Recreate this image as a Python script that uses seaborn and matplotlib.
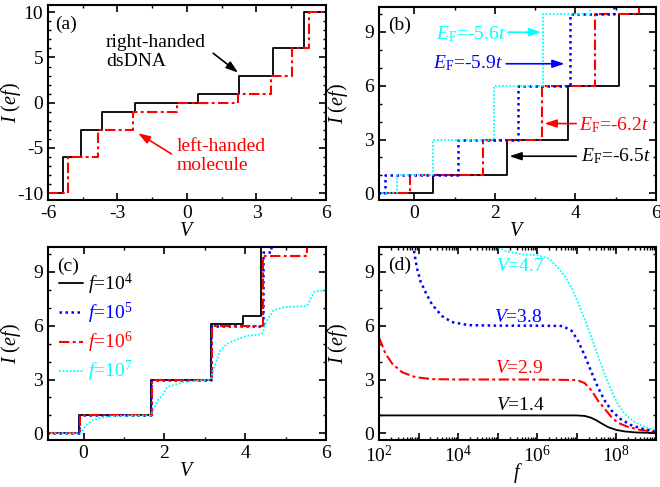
import numpy as np
import matplotlib
matplotlib.use('Agg')
import matplotlib.pyplot as plt
from matplotlib.ticker import MultipleLocator, LogLocator, FuncFormatter, NullFormatter
import seaborn as sns

# ---- panel (a): step positions in V and current levels
a_right_V = [-6.0, -5.35, -4.56, -3.65, -2.25, 0.48, 2.25, 3.72, 5.05, 6.0]
a_right_I = [-10, -6, -3, -1, 0, 1, 3, 6, 10, 10]
a_left_V = [-6.0, -5.14, -3.84, -2.33, -0.45, 2.21, 3.61, 4.52, 5.28, 6.0]
a_left_I = [-10, -6, -3, -1, 0, 1, 3, 6, 10, 10]

# ---- panel (b): steps for different Fermi energies
b_65_V = [-0.9, 0.47, 2.29, 3.81, 5.08, 6.0]
b_65_I = [0, 1, 3, 6, 10, 10]
b_62_V = [-0.9, -0.12, 1.70, 3.18, 4.48, 5.58, 6.0]
b_62_I = [0, 1, 3, 6, 10, 15, 15]
b_59_V = [-0.9, -0.72, 1.08, 2.58, 3.86, 4.96, 6.0]
b_59_I = [0, 1, 3, 6, 10, 15, 15]
b_56_V = [-0.9, -0.43, 0.46, 1.98, 3.19, 4.36, 6.0]
b_56_I = [0, 1, 3, 6, 10, 15, 15]

# ---- panel (c): different frequencies
c_f4_V = [-0.9, -0.10, 1.67, 3.15, 3.95, 4.40, 6.0]
c_f4_I = [0, 1, 3, 6.08, 6.55, 15, 15]
c_f5_V = [-0.9, -0.10, 1.68, 3.16, 4.43, 4.64, 6.0]
c_f5_I = [0, 1, 3, 6.0, 10.1, 15, 15]
c_f6_V = [-0.9, -0.08, 1.70, 3.19, 4.45, 5.54, 6.0]
c_f6_I = [0, 1, 3, 5.98, 9.88, 15, 15]
c_f7_V = [-0.9, -0.08, 0.0, 0.06, 0.22, 0.42, 0.83, 1.2, 1.66, 1.74, 1.86, 1.98,
          2.07, 2.48, 2.89, 3.14, 3.22, 3.38, 3.54, 3.71, 4.04, 4.41, 4.45, 4.53,
          4.70, 4.94, 5.52, 5.56, 5.64, 5.72, 6.0]
c_f7_I = [0, 0, 0.25, 0.46, 0.73, 0.88, 0.97, 0.99, 1.0, 1.38, 1.93, 2.2,
          2.58, 2.85, 2.94, 3.0, 3.59, 4.6, 4.97, 5.16, 5.43, 5.52, 5.7, 6.26,
          6.85, 7.03, 7.09, 7.2, 7.6, 7.9, 7.97]

# ---- panel (d): log10(f) and current
d_14_logf = [2.0, 6.0, 7.0, 7.2, 7.35, 7.5, 7.65, 7.8, 8.0, 8.2, 8.5, 9.0]
d_14_I = [1.0, 1.0, 1.0, 0.97, 0.88, 0.72, 0.52, 0.34, 0.19, 0.11, 0.05, 0.02]
d_29_logf = [2.0, 2.17, 2.34, 2.59, 2.92, 3.34, 4.0, 5.0, 6.0, 7.0, 7.2, 7.37,
             7.53, 7.7, 7.87, 8.03, 8.28, 8.62, 9.0]
d_29_I = [5.34, 4.42, 3.87, 3.4, 3.13, 3.02, 3.0, 3.0, 3.0, 2.97, 2.8, 2.39,
          1.84, 1.38, 0.92, 0.6, 0.37, 0.18, 0.09]
d_38_logf = [2.86, 2.96, 3.05, 3.17, 3.34, 3.59, 3.84, 4.26, 5.0, 6.0, 6.64,
             6.87, 7.03, 7.2, 7.37, 7.53, 7.7, 7.87, 8.08, 8.37, 8.7, 9.0]
d_38_I = [10.5, 9.2, 8.47, 7.89, 7.18, 6.54, 6.2, 6.03, 6.0, 6.0, 5.98,
          5.71, 5.16, 4.33, 3.41, 2.58, 1.84, 1.29, 0.83, 0.46, 0.22, 0.13]
d_47_logf = [4.93, 5.2, 5.6, 6.0, 6.31, 6.53, 6.7, 6.87, 7.03, 7.2, 7.37, 7.53,
             7.7, 7.87, 8.03, 8.2, 8.45, 8.7, 9.0]
d_47_I = [10.45, 10.15, 9.98, 9.92, 9.72, 9.2, 8.75, 8.1, 7.27, 6.35, 5.34, 4.33,
          3.31, 2.39, 1.66, 1.1, 0.64, 0.37, 0.18]

BLUE, RED, CYAN = '#0000ff', '#ff0000', '#00ffff'
ls_dashdot = (0, (5, 1.6, 1.4, 1.6))
ls_blue = (0, (1, 1.4))
ls_cyan = (0, (1, 1))

sns.set_style('ticks')
plt.rcParams.update({
    'font.family': ['Liberation Serif', 'DejaVu Serif'],
    'mathtext.fontset': 'custom',
    'mathtext.rm': 'Liberation Serif',
    'mathtext.it': 'Liberation Serif:italic',
    'mathtext.bf': 'Liberation Serif:bold',
    'axes.unicode_minus': False,
    'font.size': 14,
    'text.color': 'black', 'axes.labelcolor': 'black',
    'axes.edgecolor': 'black', 'xtick.color': 'black', 'ytick.color': 'black',
    'axes.linewidth': 1.5,
    'xtick.direction': 'in', 'ytick.direction': 'in',
    'xtick.top': True, 'ytick.right': True,
    'xtick.major.size': 5, 'ytick.major.size': 5,
    'xtick.minor.size': 2.5, 'ytick.minor.size': 2.5,
    'xtick.major.width': 1.2, 'ytick.major.width': 1.2,
    'xtick.minor.width': 1.0, 'ytick.minor.width': 1.0,
    'xtick.labelsize': 14, 'ytick.labelsize': 14,
    'axes.labelsize': 14.5,
})

fig = plt.figure(figsize=(6.6, 4.87), dpi=100)
ax_a = fig.add_axes([0.0727, 0.5893, 0.4212, 0.4004])
ax_b = fig.add_axes([0.5742, 0.5893, 0.4197, 0.397])
ax_c = fig.add_axes([0.0727, 0.0965, 0.4212, 0.397])
ax_d = fig.add_axes([0.5742, 0.0965, 0.4197, 0.397])

arrow = '-|>,head_length=0.6,head_width=0.2'


def arr(ax, tip, start, color):
    ax.annotate('', xy=tip, xytext=start,
                arrowprops=dict(arrowstyle=arrow, color=color, lw=1.2,
                                mutation_scale=12, shrinkA=0, shrinkB=0))


def ylab(ax, xpos):
    ax.set_ylabel(r'$I$ ($ef$)')
    ax.yaxis.set_label_coords(xpos, 0.5)


# (a)
sns.lineplot(x=a_right_V, y=a_right_I, ax=ax_a, color='black', lw=1.3,
             drawstyle='steps-post', estimator=None, sort=False, legend=False)
sns.lineplot(x=a_left_V, y=a_left_I, ax=ax_a, color=RED, lw=1.5, linestyle=ls_dashdot,
             drawstyle='steps-post', estimator=None, sort=False, legend=False)
ax_a.set_xlim(-6, 6)
ax_a.set_ylim(-10.75, 10.8)
ax_a.xaxis.set_major_locator(MultipleLocator(3))
ax_a.xaxis.set_minor_locator(MultipleLocator(1.5))
ax_a.yaxis.set_major_locator(MultipleLocator(5))
ax_a.yaxis.set_minor_locator(MultipleLocator(1))
ax_a.set_xlabel(r'$V$', labelpad=0)
ylab(ax_a, -0.09)
ax_a.text(0.025, 0.9, '(a)', transform=ax_a.transAxes, va='center')
ax_a.text(-3.5, 5.6, 'right-handed\ndsDNA', ha='left', va='center')
ax_a.text(-0.45, -5.9, 'left-handed\nmolecule', ha='left', va='center', color=RED)
arr(ax_a, (2.21, 3.33), (1.13, 5.47), 'black')
arr(ax_a, (-2.11, -3.37), (-0.67, -5.66), RED)

# (b)
sns.lineplot(x=b_65_V, y=b_65_I, ax=ax_b, color='black', lw=1.3,
             drawstyle='steps-post', estimator=None, sort=False, legend=False)
sns.lineplot(x=b_62_V, y=b_62_I, ax=ax_b, color=RED, lw=1.5, linestyle=ls_dashdot,
             drawstyle='steps-post', estimator=None, sort=False, legend=False)
sns.lineplot(x=b_59_V, y=b_59_I, ax=ax_b, color=BLUE, lw=1.8, linestyle=ls_blue,
             drawstyle='steps-post', estimator=None, sort=False, legend=False)
sns.lineplot(x=b_56_V, y=b_56_I, ax=ax_b, color=CYAN, lw=1.3, linestyle=ls_cyan,
             drawstyle='steps-post', estimator=None, sort=False, legend=False)
ax_b.text(0.54, 8.6, r'$E_{\rm F}$=-5.6$t$', color=CYAN, ha='left', va='baseline')
arr(ax_b, (3.15, 8.98), (2.32, 8.98), CYAN)
ax_b.text(0.46, 6.94, r'$E_{\rm F}$=-5.9$t$', color=BLUE, ha='left', va='baseline')
arr(ax_b, (3.73, 7.22), (2.28, 7.22), BLUE)
ax_b.text(4.1, 3.52, r'$E_{\rm F}$=-6.2$t$', color=RED, ha='left', va='baseline')
arr(ax_b, (3.23, 3.89), (4.02, 3.89), RED)
ax_b.text(4.14, 1.76, r'$E_{\rm F}$=-6.5$t$', color='black', ha='left', va='baseline')
arr(ax_b, (2.36, 2.07), (4.02, 2.07), 'black')
ax_b.text(0.033, 0.905, '(b)', transform=ax_b.transAxes, va='center')

# (c)
sns.lineplot(x=c_f4_V, y=c_f4_I, ax=ax_c, color='black', lw=1.3, label=r'$f$=10$^4$',
             drawstyle='steps-post', estimator=None, sort=False, legend=False)
sns.lineplot(x=c_f5_V, y=c_f5_I, ax=ax_c, color=BLUE, lw=1.8, linestyle=ls_blue,
             label=r'$f$=10$^5$',
             drawstyle='steps-post', estimator=None, sort=False, legend=False)
sns.lineplot(x=c_f6_V, y=c_f6_I, ax=ax_c, color=RED, lw=1.5, linestyle=ls_dashdot,
             label=r'$f$=10$^6$',
             drawstyle='steps-post', estimator=None, sort=False, legend=False)
sns.lineplot(x=c_f7_V, y=c_f7_I, ax=ax_c, color=CYAN, lw=1.3, linestyle=ls_cyan,
             label=r'$f$=10$^7$', estimator=None, sort=False, legend=False)
ax_c.legend(loc='upper left', bbox_to_anchor=(-0.01, 0.94), frameon=False,
            handlelength=1.25, handletextpad=0.25, labelspacing=0.2,
            borderaxespad=0.3, fontsize=14, labelcolor='linecolor')
ax_c.text(0.033, 0.9, '(c)', transform=ax_c.transAxes, va='center')

for ax in (ax_b, ax_c):
    ax.set_xlim(-0.88, 6)
    ax.xaxis.set_major_locator(MultipleLocator(2))
    ax.xaxis.set_minor_locator(MultipleLocator(1))
    ax.set_xlabel(r'$V$', labelpad=0)

# (d)
ax_d.set_xscale('log')
for lf, ii, col, lw, ls in [(d_14_logf, d_14_I, 'black', 1.3, '-'),
                            (d_29_logf, d_29_I, RED, 1.5, ls_dashdot),
                            (d_38_logf, d_38_I, BLUE, 1.8, ls_blue),
                            (d_47_logf, d_47_I, CYAN, 1.3, ls_cyan)]:
    sns.lineplot(x=10 ** np.array(lf), y=ii, ax=ax_d, color=col, lw=lw, linestyle=ls,
                 estimator=None, sort=False, legend=False)
ax_d.set_xlim(1e2, 1e9)
ax_d.xaxis.set_major_locator(LogLocator(base=10, numticks=20))
ax_d.xaxis.set_major_formatter(FuncFormatter(
    lambda v, p: r'$10^{%d}$' % round(np.log10(v)) if round(np.log10(v)) % 2 == 0 else ''))
ax_d.xaxis.set_minor_locator(LogLocator(base=10, subs=np.arange(2, 10), numticks=20))
ax_d.xaxis.set_minor_formatter(NullFormatter())
ax_d.set_xlabel(r'$f$', labelpad=-4)
ax_d.text(10 ** 4.95, 9.3, r'$V$=4.7', color=CYAN, va='center')
ax_d.text(10 ** 4.9, 6.44, r'$V$=3.8', color=BLUE, va='center')
ax_d.text(10 ** 4.93, 3.59, r'$V$=2.9', color=RED, va='center')
ax_d.text(10 ** 4.97, 1.56, r'$V$=1.4', color='black', va='center')
ax_d.text(0.033, 0.905, '(d)', transform=ax_d.transAxes, va='center')

for ax in (ax_b, ax_c, ax_d):
    ax.set_ylim(-0.37, 10.4)
    ax.yaxis.set_major_locator(MultipleLocator(3))
    ax.yaxis.set_minor_locator(MultipleLocator(1))
    ylab(ax, -0.105)
ax_c.yaxis.set_label_coords(-0.09, 0.5)

fig.savefig('out.png', dpi=100)
